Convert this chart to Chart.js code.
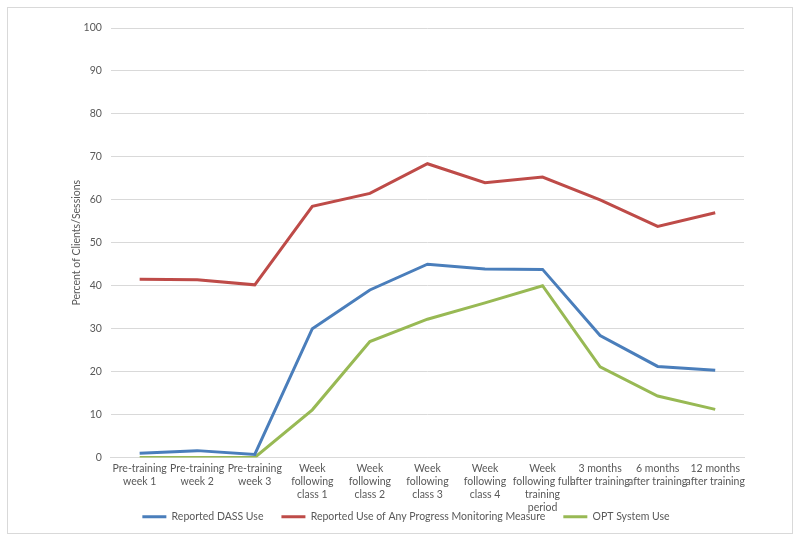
<!DOCTYPE html>
<html>
<head>
<meta charset="utf-8">
<script src="https://cdn.jsdelivr.net/npm/chart.js@4"></script>
<style>
  body { margin: 0; background: #fff; }
</style>
</head>
<body>
<canvas id="chart" width="800" height="541"></canvas>
<script>
// categories (x axis)
const periods = [
  ["Pre-training", "week 1"],
  ["Pre-training", "week 2"],
  ["Pre-training", "week 3"],
  ["Week", "following", "class 1"],
  ["Week", "following", "class 2"],
  ["Week", "following", "class 3"],
  ["Week", "following", "class 4"],
  ["Week", "following full", "training", "period"],
  ["3 months", "after training"],
  ["6 months", "after training"],
  ["12 months", "after training"]
];

// series values
const dassUse = [1.0, 1.6, 0.7, 30.0, 39.0, 45.0, 43.9, 43.8, 28.4, 21.2, 20.3];
const anyMonitoring = [41.5, 41.4, 40.2, 58.5, 61.5, 68.4, 64.0, 65.3, 60.0, 53.8, 57.0];
const optUse = [0, 0, 0, 11.1, 27.0, 32.2, 36.0, 40.0, 21.1, 14.3, 11.2];

const textColor = "#595959";
const fontFamily = "Lato, 'Open Sans', sans-serif";
const fontSize = 10.5;

// outer frame like the source figure
const framePlugin = {
  id: "frame",
  beforeDraw(chart) {
    const c = chart.ctx;
    c.save();
    c.fillStyle = "#fff";
    c.fillRect(0, 0, chart.width, chart.height);
    c.strokeStyle = "#d9d9d9";
    c.lineWidth = 1;
    c.strokeRect(7.5, 7.5, 785, 526);
    c.restore();
  },
  // let the tall x labels spill down over the legend band instead of being clipped
  afterLayout(chart) {
    chart.scales.x.bottom = chart.height;
  }
};

const ctx = document.getElementById("chart").getContext("2d");
const chart = new Chart(ctx, {
  type: "line",
  data: {
    labels: periods,
    datasets: [
      {
        label: "Reported DASS Use",
        data: dassUse,
        borderColor: "#4a7ebb",
        backgroundColor: "#4a7ebb",
        borderWidth: 3,
        pointRadius: 0,
        tension: 0
      },
      {
        label: "Reported Use of Any Progress Monitoring Measure",
        data: anyMonitoring,
        borderColor: "#be4b48",
        backgroundColor: "#be4b48",
        borderWidth: 3,
        pointRadius: 0,
        tension: 0
      },
      {
        label: "OPT System Use",
        data: optUse,
        borderColor: "#98b954",
        backgroundColor: "#98b954",
        borderWidth: 3,
        pointRadius: 0,
        tension: 0
      }
    ]
  },
  options: {
    responsive: false,
    animation: false,
    layout: {
      padding: { left: 68, right: 56, top: 28, bottom: 9 }
    },
    scales: {
      x: {
        offset: true,
        grid: { display: false, drawTicks: false },
        border: { color: "#d9d9d9" },
        ticks: {
          color: textColor,
          font: { family: fontFamily, size: fontSize, lineHeight: 1.24 },
          maxRotation: 0,
          autoSkip: false,
          padding: 5
        },
        afterFit(scale) {
          scale.height = 36;
        }
      },
      y: {
        min: 0,
        max: 100,
        grid: { color: "#d9d9d9", drawTicks: false },
        border: { display: false },
        ticks: {
          stepSize: 10,
          color: textColor,
          font: { family: fontFamily, size: fontSize },
          padding: 9
        },
        title: {
          display: true,
          text: "Percent of Clients/Sessions",
          color: textColor,
          font: { family: fontFamily, size: fontSize },
          padding: 2
        },
        afterFit(scale) {
          scale.width -= 10;
        }
      }
    },
    plugins: {
      legend: {
        position: "bottom",
        labels: {
          color: textColor,
          font: { family: fontFamily, size: fontSize },
          usePointStyle: true,
          pointStyle: "line",
          pointStyleWidth: 24,
          boxHeight: 3,
          padding: 18
        }
      },
      tooltip: { enabled: false }
    }
  },
  plugins: [framePlugin]
});
</script>
</body>
</html>
